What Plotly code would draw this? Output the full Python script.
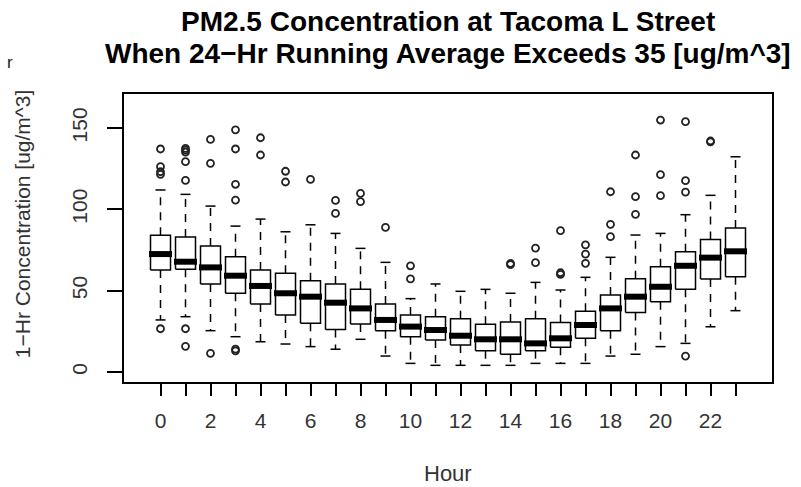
import plotly.graph_objects as go

# ---- data ----
hours = list(range(24))
tick_labels = [str(h) if h % 2 == 0 else "" for h in hours]

lower_whisker = [32.0, 34.0, 25.4, 21.7, 18.6, 17.2, 15.6, 14.0, 20.1, 9.8, 5.3, 4.1,
                 4.1, 4.1, 4.1, 5.3, 5.3, 5.3, 9.8, 10.9, 15.6, 17.6, 27.8, 37.7]
q1 = [62.7, 63.1, 54.1, 48.4, 41.8, 35.0, 29.9, 26.2, 29.5, 25.4, 21.7, 19.7,
      16.6, 13.1, 10.9, 13.1, 15.2, 20.7, 25.4, 36.5, 43.2, 50.8, 57.2, 58.6]
median = [72.5, 67.8, 64.3, 59.2, 52.9, 48.4, 46.3, 42.6, 39.1, 32.0, 27.9, 25.8,
          22.3, 20.1, 20.1, 17.6, 20.7, 28.9, 39.1, 46.3, 52.4, 65.3, 70.3, 74.2]
q3 = [84.0, 83.0, 77.4, 70.9, 62.7, 60.7, 56.1, 54.1, 50.8, 41.8, 35.0, 34.0,
      32.8, 29.3, 30.7, 32.8, 30.5, 37.3, 47.3, 57.4, 64.7, 73.9, 81.5, 88.5]
upper_whisker = [111.9, 109.2, 102.0, 89.7, 94.0, 86.2, 90.5, 85.2, 76.0, 67.4, 45.1, 54.1,
                 49.6, 50.8, 48.4, 55.1, 50.4, 58.2, 70.5, 84.2, 85.2, 96.7, 108.6, 132.3]
outliers = [
    [137.1, 126.2, 123.1, 121.5, 26.6],
    [137.5, 136.4, 135.2, 129.3, 117.8, 26.6, 15.8],
    [143.0, 128.3, 11.5],
    [148.9, 137.1, 115.4, 105.7, 14.0, 13.0],
    [144.0, 133.4],
    [123.4, 116.8],
    [118.4],
    [105.5, 97.5],
    [109.8, 104.7],
    [88.9],
    [65.3, 57.2],
    [],
    [],
    [],
    [66.8, 66.0],
    [76.2, 67.2],
    [86.9, 61.0, 60.0],
    [78.2, 72.5, 66.8],
    [110.8, 90.8, 83.2],
    [133.4, 107.8, 96.9],
    [154.9, 121.3, 108.4],
    [153.9, 117.6, 110.6, 9.8],
    [142.0, 141.5],
    [],
]

title_line1 = "PM2.5 Concentration at Tacoma L Street"
title_line2 = "When 24\u2212Hr Running Average Exceeds 35 [ug/m^3]"
x_title = "Hour"
y_title = "1\u2212Hr Concentration [ug/m^3]"

# ---- style constants ----
BOX_HALF = 0.4
CAP_HALF = 0.2
MED_HALF = 0.46
FONT = "Liberation Sans, Arial, sans-serif"
TXT = "#333333"

# ---- build geometry from data ----
bx, by = [], []
wx, wy = [], []
cx, cy = [], []
mx, my = [], []
ox, oy = [], []
for i, h in enumerate(hours):
    bx += [h - BOX_HALF, h + BOX_HALF, h + BOX_HALF, h - BOX_HALF, h - BOX_HALF, None]
    by += [q1[i], q1[i], q3[i], q3[i], q1[i], None]
    wx += [h, h, None, h, h, None]
    wy += [q3[i], upper_whisker[i], None, q1[i], lower_whisker[i], None]
    cx += [h - CAP_HALF, h + CAP_HALF, None, h - CAP_HALF, h + CAP_HALF, None]
    cy += [upper_whisker[i], upper_whisker[i], None, lower_whisker[i], lower_whisker[i], None]
    mx += [h - MED_HALF, h + MED_HALF, None]
    my += [median[i], median[i], None]
    for v in outliers[i]:
        ox.append(h)
        oy.append(v)

fig = go.Figure()
fig.add_trace(go.Scatter(x=wx, y=wy, mode="lines",
                         line=dict(color="black", width=1.5, dash="8px,7px"),
                         hoverinfo="skip"))
fig.add_trace(go.Scatter(x=cx, y=cy, mode="lines",
                         line=dict(color="black", width=1.5), hoverinfo="skip"))
fig.add_trace(go.Scatter(x=bx, y=by, mode="lines",
                         line=dict(color="black", width=1.5), hoverinfo="skip"))
fig.add_trace(go.Scatter(x=mx, y=my, mode="lines",
                         line=dict(color="black", width=6), hoverinfo="skip"))
fig.add_trace(go.Scatter(x=ox, y=oy, mode="markers",
                         marker=dict(symbol="circle-open", size=7, color="#222222",
                                     line=dict(color="#222222", width=1.8)),
                         hoverinfo="skip"))

fig.update_layout(
    width=801, height=487,
    margin=dict(l=124, r=29, t=94, b=105),
    plot_bgcolor="white", paper_bgcolor="white",
    showlegend=False,
    font=dict(family=FONT, color=TXT),
)
fig.update_xaxes(
    range=[-1.46, 24.46], tickmode="array", tickvals=hours, ticktext=tick_labels,
    ticks="outside", ticklen=12, tickwidth=1.5, tickcolor="black",
    showline=True, linecolor="black", linewidth=1.5, mirror=True,
    showgrid=False, zeroline=False, tickfont=dict(size=21, color=TXT),
    ticklabelstandoff=7,
)
fig.update_yaxes(
    range=[-6.15, 170.9], tickmode="array", tickvals=[0, 50, 100, 150],
    ticks="outside", ticklen=15, tickwidth=1.5, tickcolor="black",
    showline=True, linecolor="black", linewidth=1.5, mirror=True,
    showgrid=False, zeroline=False, tickangle=-90,
    tickfont=dict(size=21, color=TXT), ticklabelstandoff=12,
)

annots = [
    dict(text="<b>%s</b>" % title_line1, x=0.5, y=1.252, font=dict(size=28, color="black")),
    dict(text="<b>%s</b>" % title_line2, x=0.5, y=1.142, font=dict(size=28, color="black")),
    dict(text=x_title, x=0.5, y=-0.3194, font=dict(size=22, color=TXT)),
    dict(text=y_title, x=-0.1574, y=0.548, textangle=-90, font=dict(size=21, color=TXT)),
    dict(text="r", x=-0.176, y=1.111, font=dict(size=17, color="#222222")),
]
for a in annots:
    fig.add_annotation(xref="paper", yref="paper", showarrow=False,
                       xanchor="center", yanchor="middle", **a)

fig.write_html("out.html")
